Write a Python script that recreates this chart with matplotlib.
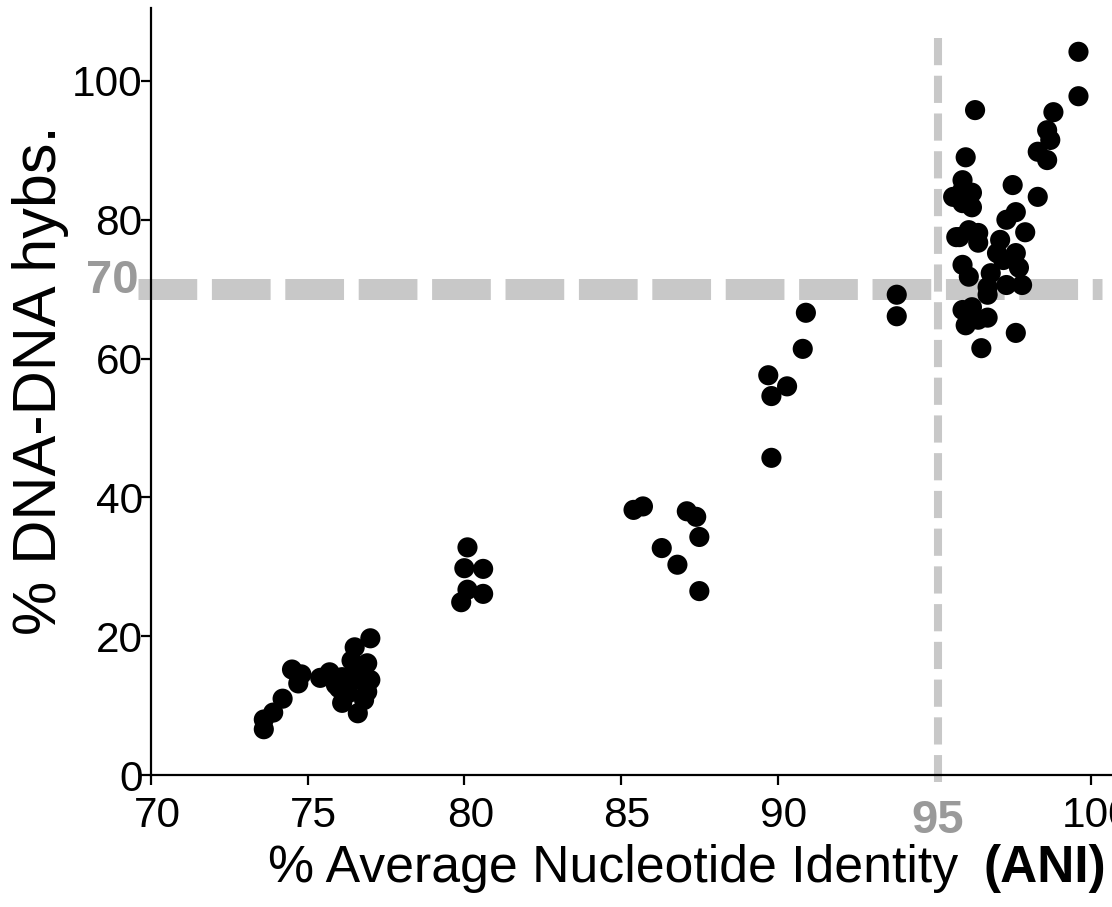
import matplotlib
matplotlib.use('Agg')
import matplotlib.pyplot as plt
from matplotlib import font_manager
from matplotlib.transforms import ScaledTranslation

# % ANI vs % DNA-DNA hybridisation
ani = [73.6, 73.6, 73.9, 74.2, 74.5, 74.8, 74.7, 75.4, 75.7, 75.9, 76.1, 76.0,
       76.1, 76.3, 76.6, 76.8, 76.5, 76.6, 76.5, 77.0, 76.9, 77.0, 76.9, 76.4,
       80.1, 80.0, 80.6, 80.1, 79.9, 80.6,
       85.4, 85.7, 86.3, 87.1, 87.4, 87.5, 86.8, 87.5,
       90.9, 90.8, 89.7, 90.3, 89.8, 89.8, 93.8, 93.8,
       96.3, 99.6, 99.6, 98.8, 98.6, 98.7, 98.3, 98.6, 96.0, 97.5, 98.3, 95.9,
       95.9, 96.2, 95.9, 96.2, 95.7, 96.1, 96.4, 96.4, 97.3, 97.6, 97.9, 97.6,
       97.1, 97.0, 97.2, 97.7, 95.9, 96.1, 96.8, 96.7, 96.7, 97.3, 97.8, 95.9,
       96.2, 96.0, 96.4, 96.7, 96.5, 97.6, 95.6, 95.8]
ddh = [6.6, 8.0, 9.0, 11.0, 15.2, 14.5, 13.2, 14.0, 14.8, 13.0, 14.1, 12.5,
       10.4, 11.8, 8.9, 10.8, 13.7, 15.1, 18.4, 19.7, 16.1, 13.7, 12.0, 16.5,
       32.8, 29.8, 29.7, 26.7, 24.9, 26.1,
       38.2, 38.7, 32.7, 38.0, 37.2, 34.3, 30.3, 26.5,
       66.6, 61.4, 57.6, 56.0, 54.6, 45.7, 69.2, 66.1,
       95.8, 104.2, 97.8, 95.5, 92.9, 91.5, 89.8, 88.6, 89.0, 85.0, 83.3, 85.7,
       84.3, 83.9, 82.4, 81.8, 77.5, 78.5, 78.1, 76.7, 80.0, 81.1, 78.2, 75.2,
       77.1, 75.2, 74.2, 73.1, 73.5, 71.8, 72.3, 70.3, 69.2, 70.6, 70.6, 67.0,
       67.4, 64.8, 65.6, 65.9, 61.5, 63.7, 83.3, 77.5]

x_ticks = [70, 75, 80, 85, 90, 100]
y_ticks = [0, 20, 40, 60, 80, 100]
ani_cut = 95.12
ddh_cut = 70


def has_font(name):
    try:
        font_manager.findfont(font_manager.FontProperties(family=name),
                              fallback_to_default=False)
        return True
    except ValueError:
        return False


plt.rcParams['font.family'] = ['Liberation Sans', 'DejaVu Sans']
# the reference ticks use a condensed sans
if has_font('Liberation Sans Narrow'):
    tick_family = ['Liberation Sans Narrow', 'Liberation Sans']
    tick_size = 33
else:
    tick_family = ['Liberation Sans', 'DejaVu Sans']
    tick_size = 30.5

grey_line = '#c8c8c8'
grey_text = '#9a9a9a'

fig = plt.figure(figsize=(11.12, 9.07), dpi=100)
ax = fig.add_axes([0.1358, 0.1455, 0.8642, 0.8456])
ax.set_xlim(70, 100.67)
ax.set_ylim(0, 110.5)

# threshold lines
ax.plot([69.585, 100.35], [ddh_cut, ddh_cut], color=grey_line, lw=15.1,
        dashes=(2.8, 0.7), dash_capstyle='butt', solid_capstyle='butt',
        clip_on=False, zorder=1)
ax.plot([ani_cut, ani_cut], [106.2, -1.0], color=grey_line, lw=5.8,
        dashes=(3.375, 1.31), dash_capstyle='butt', clip_on=False, zorder=1)

ax.scatter(ani, ddh, s=210, color='black', edgecolors='none', zorder=3,
           clip_on=False)

for side in ['top', 'right']:
    ax.spines[side].set_visible(False)
for side in ['left', 'bottom']:
    ax.spines[side].set_linewidth(1.6)

ax.set_xticks(x_ticks)
ax.set_yticks(y_ticks)
ax.tick_params(length=7, width=1.6, labelsize=tick_size)
ax.tick_params(axis='y', pad=-1)
ax.tick_params(axis='x', pad=8)
for lab in ax.get_xticklabels() + ax.get_yticklabels():
    lab.set_family(tick_family)
shift = ScaledTranslation(6 / 100, 0, fig.dpi_scale_trans)
for lab in ax.get_xticklabels():
    lab.set_transform(lab.get_transform() + shift)

ax.text(ani_cut, -8.4, '95', color=grey_text, fontsize=34, fontweight='bold',
        ha='center', va='baseline', clip_on=False)
ax.text(69.62, 69.45, '70', color=grey_text, fontsize=34, fontweight='bold',
        ha='right', va='baseline', clip_on=False)

fig.text(0.551, 0.0276, '% Average Nucleotide Identity', fontsize=37.3,
         ha='center', va='baseline')
fig.text(0.94, 0.0276, '(ANI)', fontsize=37, fontweight='bold',
         ha='center', va='baseline')
fig.text(0.0505, 0.581, '% DNA-DNA hybs.', fontsize=44, rotation=90,
         rotation_mode='anchor', ha='center', va='baseline')

fig.savefig('out.png', dpi=100)
